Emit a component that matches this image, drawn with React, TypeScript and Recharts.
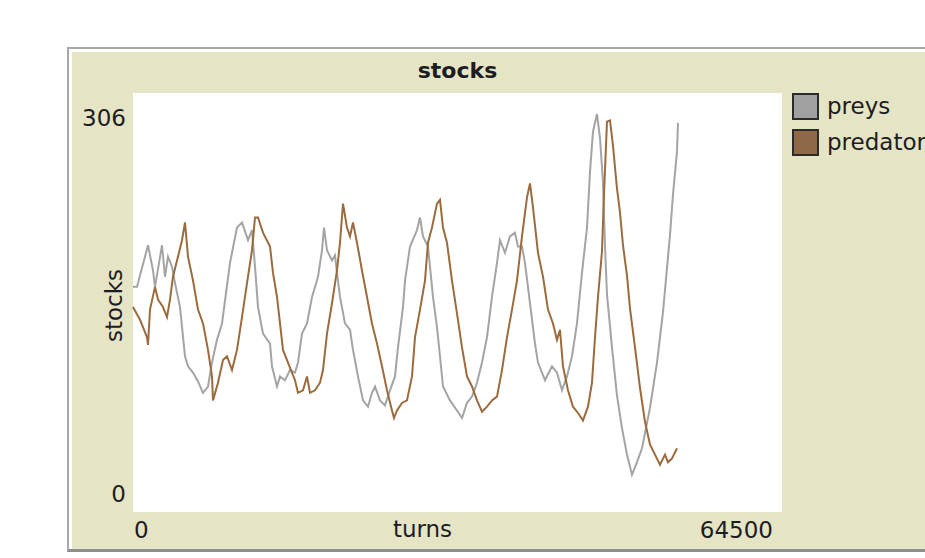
import { CartesianGrid, Label, Legend, Line, LineChart, XAxis, YAxis } from "recharts";

const preyTurns = [
  0, 398, 1491, 1988, 2186, 2882, 3180, 3479, 3876, 4174,
  4671, 5168, 5466, 5963, 6460, 6957, 7454, 7851, 8348, 8845,
  9640, 10336, 10833, 11429, 11827, 12125, 12423, 12920, 13616, 13814,
  14311, 14609, 15106, 15603, 16100, 16398, 16796, 17293, 17790, 18386,
  18784, 18983, 19281, 19778, 20075, 20274, 20572, 21069, 21566, 21864,
  22361, 22858, 23355, 23752, 24050, 24547, 25044, 25541, 26038, 26336,
  26833, 27032, 27529, 28224, 28522, 28820, 29317, 29814, 30212, 30510,
  30808, 31503, 32199, 32696, 33193, 33690, 34187, 34684, 35181, 35678,
  36174, 36472, 36969, 37466, 37963, 38261, 38659, 38957, 39454, 39951,
  40249, 40945, 41640, 42137, 42634, 43131, 43628, 44125, 44622, 45119,
  45417, 45715, 46113, 46411, 46709, 46908, 47106, 47603, 48100, 48597,
  49094, 49591, 50088, 50585, 51380, 52076, 52672, 53368, 53665, 54063,
  54162,
];
const preyValues = [
  169, 169, 202, 182, 169, 202, 177, 193, 185, 172,
  153, 114, 106, 101, 94, 85, 90, 109, 127, 140,
  188, 216, 220, 206, 214, 185, 153, 132, 124, 106,
  90, 98, 95, 103, 101, 109, 132, 140, 161, 177,
  198, 216, 198, 190, 194, 180, 161, 140, 135, 119,
  98, 79, 74, 85, 90, 79, 75, 87, 98, 121,
  153, 174, 201, 214, 224, 209, 201, 161, 137, 114,
  90, 79, 71, 65, 77, 82, 93, 109, 129, 161,
  188, 206, 196, 209, 212, 201, 201, 188, 156, 124,
  109, 95, 106, 101, 87, 98, 114, 140, 180, 216,
  260, 292, 306, 287, 252, 202, 163, 121, 83, 57,
  36, 20, 30, 41, 73, 109, 149, 210, 242, 276,
  299,
];

const predatorTurns = [
  0, 696, 1391, 1491, 1689, 2186, 2485, 2981, 3379, 3677,
  3975, 4472, 4869, 5168, 5466, 5963, 6460, 6957, 7454, 7851,
  7950, 8447, 8944, 9342, 9839, 10336, 10833, 11330, 11827, 12125,
  12423, 12920, 13616, 13914, 14311, 14609, 14907, 15404, 16100, 16398,
  16895, 17292, 17590, 18087, 18584, 18882, 19280, 19777, 20274, 20572,
  20870, 21267, 21565, 21864, 22261, 22758, 23255, 23752, 24249, 24746,
  25243, 25739, 25938, 26236, 26733, 27230, 27727, 28025, 28522, 29019,
  29317, 29715, 30212, 30510, 30808, 31205, 31702, 32199, 32696, 33193,
  33690, 34187, 34684, 35181, 35678, 36174, 36671, 37168, 37665, 38162,
  38659, 39156, 39454, 39752, 40249, 40746, 41243, 41740, 42137, 42435,
  42733, 43230, 43727, 44224, 44721, 45218, 45615, 45914, 46212, 46609,
  46808, 47106, 47404, 47702, 48100, 48398, 48696, 49094, 49392, 49889,
  50386, 50883, 51380, 51876, 52373, 52870, 53168, 53566, 54063,
];
const predatorValues = [
  153, 143, 129, 123, 151, 169, 159, 153, 145, 159,
  177, 193, 206, 220, 193, 174, 151, 140, 119, 98,
  79, 93, 111, 114, 103, 119, 145, 172, 198, 224,
  224, 212, 201, 180, 161, 140, 119, 109, 95, 85,
  87, 98, 85, 87, 93, 103, 132, 156, 182, 204,
  235, 216, 209, 220, 204, 182, 161, 140, 124, 106,
  87, 71, 65, 71, 77, 79, 98, 129, 151, 174,
  204, 216, 235, 238, 216, 204, 174, 148, 121, 98,
  90, 79, 70, 74, 79, 82, 103, 129, 151, 174,
  209, 240, 251, 232, 196, 177, 151, 140, 127, 135,
  106, 87, 74, 69, 63, 74, 93, 129, 161, 197,
  242, 300, 301, 281, 247, 228, 202, 178, 152, 121,
  89, 62, 44, 36, 28, 36, 30, 33, 41,
];

const xTicks = [0, 64500];
const yTicks = [0, 306];

const series = [
  { name: "preys", color: "#a4a4a4", swatch: "#a0a0a0", turns: preyTurns, values: preyValues },
  { name: "predator", color: "#9c6b3d", swatch: "#8f6946", turns: predatorTurns, values: predatorValues },
];

const font = "'DejaVu Sans', Verdana, sans-serif";
const ink = "#1c1c24";
const beige = "#e5e4c4";

function YTick({ x, y, payload }: any) {
  const shift = payload.value === 306 ? 4 : -6;
  return (
    <text x={x} y={y + shift} textAnchor="end" dominantBaseline="central" fontFamily={font} fontSize={23} fill={ink}>
      {payload.value}
    </text>
  );
}

function XTick({ x, y, payload }: any) {
  const first = payload.value === 0;
  return (
    <text
      x={first ? x + 1 : x - 9}
      y={y + 18}
      textAnchor={first ? "start" : "end"}
      dominantBaseline="central"
      fontFamily={font}
      fontSize={23}
      fill={ink}
    >
      {payload.value}
    </text>
  );
}

function LegendBox() {
  return (
    <div style={{ fontFamily: font, fontSize: 23, color: ink }}>
      {series.map((s) => (
        <div key={s.name} style={{ display: "flex", alignItems: "center", height: 36, whiteSpace: "nowrap" }}>
          <span
            style={{
              width: 23,
              height: 23,
              background: s.swatch,
              border: "2px solid #2b2b2b",
              marginRight: 8,
              flex: "none",
            }}
          />
          {s.name}
        </div>
      ))}
    </div>
  );
}

export default function App() {
  return (
    <div style={{ position: "absolute", left: 0, top: 0, width: 925, height: 558, overflow: "hidden", background: "#fff" }}>
      <div
        style={{
          position: "absolute",
          left: 67,
          top: 47,
          width: 900,
          height: 505,
          boxSizing: "border-box",
          borderTop: "2px solid #a8a8a8",
          borderLeft: "2px solid #a8a8a8",
          borderBottom: "3px solid #8e8e8e",
          background: beige,
        }}
      >
        <div style={{ height: "100%", boxSizing: "border-box", borderTop: "3px solid #fff", borderLeft: "3px solid #fff" }} />
      </div>
      <div
        style={{
          position: "absolute",
          left: 133,
          width: 649,
          top: 58,
          textAlign: "center",
          fontFamily: font,
          fontWeight: "bold",
          fontSize: 22,
          color: ink,
        }}
      >
        stocks
      </div>
      <div style={{ position: "absolute", left: 0, top: 0 }}>
        <LineChart width={925} height={558} margin={{ top: 93, right: 143, bottom: 6, left: 73 }}>
          <CartesianGrid horizontal={false} vertical={false} fill="#ffffff" stroke="none" />
          <XAxis
            type="number"
            dataKey="turn"
            domain={[0, 64500]}
            ticks={xTicks}
            height={40}
            axisLine={false}
            tickLine={false}
            tickSize={0}
            tickMargin={0}
            tick={<XTick />}
            interval={0}
          >
            <Label
              content={({ viewBox }: any) => (
                <text
                  x={viewBox.x + viewBox.width / 2 - 35}
                  y={viewBox.y + 17}
                  textAnchor="middle"
                  dominantBaseline="central"
                  fontFamily={font}
                  fontSize={23}
                  fill={ink}
                >
                  turns
                </text>
              )}
            />
          </XAxis>
          <YAxis
            type="number"
            domain={[-9.5, 322.7]}
            ticks={yTicks}
            width={60}
            axisLine={false}
            tickLine={false}
            tickSize={0}
            tickMargin={7}
            tick={<YTick />}
            interval={0}
          >
            <Label
              content={({ viewBox }: any) => {
                const cx = viewBox.x + 41;
                const cy = viewBox.y + viewBox.height / 2 + 3;
                return (
                  <text
                    x={cx}
                    y={cy}
                    transform={`rotate(-90 ${cx} ${cy})`}
                    textAnchor="middle"
                    dominantBaseline="central"
                    fontFamily={font}
                    fontSize={23}
                    fill={ink}
                  >
                    stocks
                  </text>
                );
              }}
            />
          </YAxis>
          <Legend
            layout="vertical"
            align="center"
            verticalAlign="middle"
            content={<LegendBox />}
            wrapperStyle={{ left: 792, top: 88, width: 200 }}
          />
          {series.map((s) => (
            <Line
              key={s.name}
              name={s.name}
              data={s.turns.map((t, i) => ({ turn: t, value: s.values[i] }))}
              dataKey="value"
              type="linear"
              stroke={s.color}
              strokeWidth={2}
              dot={false}
              activeDot={false}
              isAnimationActive={false}
            />
          ))}
        </LineChart>
      </div>
    </div>
  );
}
